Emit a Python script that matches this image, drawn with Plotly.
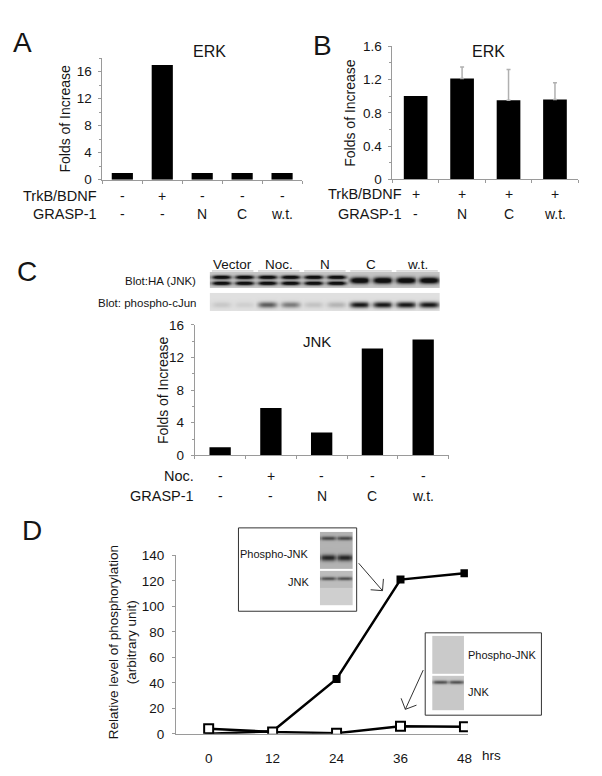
import numpy as np
import plotly.graph_objects as go

W, H = 602, 776
FONT = "Liberation Sans, Arial, sans-serif"
TXT = "#151515"
GRAY = "#9a9a9a"

# ---------------- data ----------------
# Panel A (ERK)
a_vals = [1.0, 17.0, 1.0, 1.0, 1.0]
a_trkb = ['-', '+', '-', '-', '-']
a_grasp = ['-', '-', 'N', 'C', 'w.t.']
# Panel B (ERK)
b_vals = [1.0, 1.21, 0.95, 0.96]
b_err = [0.0, 0.14, 0.37, 0.20]
b_trkb = ['+', '+', '+', '+']
b_grasp = ['-', 'N', 'C', 'w.t.']
# Panel C (JNK)
c_vals = [1.0, 5.8, 2.8, 13.1, 14.2]
c_noc = ['-', '+', '-', '-', '-']
c_grasp = ['-', '-', 'N', 'C', 'w.t.']
c_groups = ['Vector', 'Noc.', 'N', 'C', 'w.t.']
c_ha_doublet = [1, 1, 1, 1, 1, 1, 0, 0, 0, 0]
c_pcjun = [0.10, 0.07, 0.55, 0.42, 0.12, 0.18, 0.85, 0.85, 0.85, 0.85]
# Panel D (time course)
d_hours = [0, 12, 24, 36, 48]
d_filled = [0, 2, 43, 121, 126]
d_open = [4, 1.5, 0.5, 6, 5.5]
d_ticks = [0, 12, 24, 36, 48]


# ---------------- helpers ----------------
def dx(x0, x1):
    return [x0 / W, x1 / W]


def dy(ytop, ybot):
    return [1 - ybot / H, 1 - ytop / H]


def py(y):
    return 1 - y / H


annotations = []
shapes = []


def txt(text, x, y, size, xanchor='center', xref='paper', angle=0, color=TXT):
    xv = x / W if xref == 'paper' else x
    annotations.append(dict(text=text, x=xv, y=py(y), xref=xref, yref='paper',
                            xanchor=xanchor, yanchor='middle', showarrow=False,
                            textangle=angle,
                            font=dict(size=size, color=color, family=FONT)))


def pline(x0, y0, x1, y1, color='#333333', width=1):
    shapes.append(dict(type='line', xref='paper', yref='paper',
                       x0=x0 / W, y0=py(y0), x1=x1 / W, y1=py(y1),
                       line=dict(color=color, width=width)))


def arrow(x0, y0, x1, y1, L=12, ang=45):
    pline(x0, y0, x1, y1)
    d = np.array([x1 - x0, y1 - y0], float)
    d /= np.linalg.norm(d)
    b = -d
    for s in (1, -1):
        a = np.radians(ang * s)
        r = np.array([b[0] * np.cos(a) - b[1] * np.sin(a), b[0] * np.sin(a) + b[1] * np.cos(a)])
        pline(x1, y1, x1 + L * r[0], y1 + L * r[1])


def blot(nl, y0, y1, parts, sub=12, wband=0.42):
    xs = (np.arange(nl * sub) + 0.5) / sub
    lane = np.floor(xs).astype(int)
    u = xs - lane
    hprof = np.exp(-((u - 0.5) / wband) ** 4)
    ys = np.arange(y0, y1) + 0.5
    z = []
    for yv in ys:
        row = None
        for (p0, p1, bg, bands) in parts:
            if p0 <= yv < p1:
                val = np.full(xs.shape, bg)
                for (yc, s, inten) in bands:
                    amp = np.array([inten[l] for l in lane])
                    val = val + amp * hprof * np.exp(-((yv - yc) / s) ** 2)
                row = [float(min(v, 1.0)) for v in val]
        if row is None:
            row = [None] * len(xs)
        z.append(row)
    return xs, ys, z


fig = go.Figure()

# ---------------- Panel A ----------------
fig.add_trace(go.Bar(x=list(range(len(a_vals))), y=a_vals, width=0.53,
                     marker=dict(color='black', line=dict(width=0)),
                     xaxis='x', yaxis='y'))
# ---------------- Panel B ----------------
fig.add_trace(go.Bar(x=list(range(len(b_vals))), y=b_vals, width=0.51,
                     marker=dict(color='black', line=dict(width=0)),
                     xaxis='x2', yaxis='y2'))
eb_x = [i for i, e in enumerate(b_err) if e > 0]
fig.add_trace(go.Scatter(x=eb_x, y=[b_vals[i] for i in eb_x], mode='markers',
                         marker=dict(size=1, color='rgba(0,0,0,0)'),
                         error_y=dict(type='data', symmetric=False,
                                      array=[b_err[i] for i in eb_x],
                                      arrayminus=[0] * len(eb_x),
                                      color='#b0b0b0', thickness=1.5, width=2),
                         xaxis='x2', yaxis='y2'))
# ---------------- Panel C ----------------
fig.add_trace(go.Bar(x=list(range(len(c_vals))), y=c_vals, width=0.42,
                     marker=dict(color='black', line=dict(width=0)),
                     xaxis='x3', yaxis='y3'))
# ---------------- Panel D ----------------
fig.add_trace(go.Scatter(x=d_hours, y=d_filled, mode='lines+markers',
                         line=dict(color='black', width=2.5),
                         marker=dict(symbol='square', size=8, color='black'),
                         xaxis='x4', yaxis='y4'))
fig.add_trace(go.Scatter(x=d_hours, y=d_open, mode='lines+markers',
                         line=dict(color='black', width=2.5),
                         marker=dict(symbol='square', size=9, color='white',
                                     line=dict(color='black', width=2)),
                         xaxis='x4', yaxis='y4'))

# ---------------- blots ----------------
gray_scale = [[0, '#ffffff'], [1, '#101010']]
ha_d = [0.95 * f for f in c_ha_doublet]
ha_s = [1.0 * (1 - f) for f in c_ha_doublet]
xs, ys, z = blot(10, 262, 302, [
    (262, 278, 0.24, [(267.4, 2.0, ha_d), (273.4, 2.0, ha_d), (270.6, 3.2, ha_s)]),
    (283, 302, 0.13, [(295.0, 3.0, c_pcjun)]),
])
fig.add_trace(go.Heatmap(x=xs, y=ys, z=z, colorscale=gray_scale, zmin=0, zmax=1,
                         zsmooth='best', showscale=False, hoverinfo='skip',
                         xaxis='x5', yaxis='y5'))

xs, ys, z = blot(2, 527, 602, [
    (527, 564, 0.32, [(533.5, 2.0, [0.45, 0.45]), (553, 3.2, [0.6, 0.6])]),
    (566, 584, 0.28, [(573.8, 1.8, [0.45, 0.45])]),
    (584, 602, 0.20, []),
], wband=0.5)
fig.add_trace(go.Heatmap(x=xs, y=ys, z=z, colorscale=gray_scale, zmin=0, zmax=1,
                         zsmooth='best', showscale=False, hoverinfo='skip',
                         xaxis='x6', yaxis='y6'))

xs, ys, z = blot(2, 633, 709, [
    (633, 671, 0.22, []),
    (673, 709, 0.23, [(679.5, 1.8, [0.5, 0.5])]),
], wband=0.5)
fig.add_trace(go.Heatmap(x=xs, y=ys, z=z, colorscale=gray_scale, zmin=0, zmax=1,
                         zsmooth='best', showscale=False, hoverinfo='skip',
                         xaxis='x7', yaxis='y7'))

# ---------------- axes ----------------
tickfont = dict(size=13.5, color=TXT, family=FONT)


def bar_x(dom, n, anchor):
    return dict(domain=dom, range=[-0.5, n - 0.5], anchor=anchor, showline=True,
                linecolor=GRAY, linewidth=1, showgrid=False, zeroline=False,
                tickvals=[i - 0.5 for i in range(n + 1)], ticks='outside', ticklen=3,
                tickcolor=GRAY, showticklabels=False, fixedrange=True)


def val_y(dom, rng, dtick, mdt, anchor):
    return dict(domain=dom, range=rng, anchor=anchor, showline=True, linecolor=GRAY,
                linewidth=1, showgrid=False, zeroline=False, dtick=dtick,
                ticks='outside', ticklen=3, tickcolor=GRAY, tickfont=tickfont,
                ticklabelstandoff=4,
                minor=dict(dtick=mdt, ticks='outside', ticklen=2, tickcolor=GRAY))


def hidden(dom, rng, anchor):
    return dict(domain=dom, range=rng, anchor=anchor, visible=False, showgrid=False,
                zeroline=False, fixedrange=True)


layout = dict(
    width=W, height=H, margin=dict(l=0, r=0, t=0, b=0),
    paper_bgcolor='white', plot_bgcolor='white', showlegend=False,
    font=dict(family=FONT, color=TXT),
    xaxis=bar_x(dx(95, 296), 5, 'y'),
    yaxis=val_y(dy(44, 168), [0, 18], 4, 2, 'x'),
    xaxis2=bar_x(dx(387, 574), 4, 'y2'),
    yaxis2=val_y(dy(31.7, 167.7), [0, 1.6], 0.4, 0.2, 'x2'),
    xaxis3=bar_x(dx(188, 443.5), 5, 'y3'),
    yaxis3=val_y(dy(316, 449), [0, 16], 4, 2, 'x3'),
    xaxis4=dict(domain=dx(169, 463), range=[-6.15, 48.65], anchor='y4', showline=True,
                linecolor=GRAY, showgrid=False, zeroline=False, tickvals=d_ticks,
                ticks='', tickfont=tickfont, ticklabelstandoff=12),
    yaxis4=dict(domain=dy(551, 733), range=[0, 140], anchor='x4', showline=True,
                linecolor=GRAY, showgrid=False, zeroline=False, dtick=20,
                ticks='outside', ticklen=3, tickcolor=GRAY, tickfont=tickfont,
                ticklabelstandoff=5),
    xaxis5=hidden(dx(203, 435), [0, 10], 'y5'),
    yaxis5=hidden(dy(262, 302), [302, 262], 'x5'),
    xaxis6=hidden(dx(314, 347), [0, 2], 'y6'),
    yaxis6=hidden(dy(527, 602), [602, 527], 'x6'),
    xaxis7=hidden(dx(427, 459), [0, 2], 'y7'),
    yaxis7=hidden(dy(633, 709), [709, 633], 'x7'),
)

# ---------------- text: Panel A ----------------
txt('A', 15, 28.5, 28)
txt('ERK', 202.5, 37, 16)
txt('Folds of Increase', 57, 106, 14, angle=-90)
txt('TrkB/BDNF', 92, 184.5, 14.5, xanchor='right')
txt('GRASP-1', 92, 203, 14.5, xanchor='right')
for i, s in enumerate(a_trkb):
    txt(s, i, 184.5, 14, xref='x')
for i, s in enumerate(a_grasp):
    txt(s, i, 203, 14, xref='x')

# ---------------- text: Panel B ----------------
txt('B', 317, 31.5, 28)
txt('ERK', 484, 37, 16)
txt('Folds of Increase', 344, 100, 14, angle=-90)
txt('TrkB/BDNF', 399, 183, 14.5, xanchor='right')
txt('GRASP-1', 399, 203, 14.5, xanchor='right')
for i, s in enumerate(b_trkb):
    txt(s, i, 183, 14, xref='x2')
for i, s in enumerate(b_grasp):
    txt(s, i, 203, 14, xref='x2')

# ---------------- text: Panel C ----------------
txt('C', 19, 262, 28)
for i, g in enumerate(c_groups):
    annotations.append(dict(text=g, x=2 * i + 1, y=py(254.5), xref='x5', yref='paper',
                            xanchor='center', yanchor='middle', showarrow=False,
                            font=dict(size=13.5, color=TXT, family=FONT)))
    shapes.append(dict(type='line', xref='x5', yref='paper', x0=2 * i + 0.1, x1=2 * i + 1.9,
                       y0=py(261), y1=py(261), line=dict(color='#bbbbbb', width=1)))
txt('Blot:HA (JNK)', 191, 271.5, 11.5, xanchor='right')
txt('Blot: phospho-cJun', 191, 294, 11.5, xanchor='right')
txt('JNK', 311, 333, 15)
txt('Folds of Increase', 156, 382.5, 14, angle=-90)
txt('Noc.', 189, 470, 14.5, xanchor='right')
txt('GRASP-1', 189, 490, 14.5, xanchor='right')
for i, s in enumerate(c_noc):
    txt(s, i, 470, 14, xref='x3')
for i, s in enumerate(c_grasp):
    txt(s, i, 490, 14, xref='x3')

# ---------------- text: Panel D ----------------
txt('D', 24, 526, 28)
txt('Relative level of phosphorylation<br>(arbitrary unit)', 115.5, 640, 13.5, angle=-90)
txt('hrs', 487, 755, 13.5, xanchor='center')
shapes.append(dict(type='rect', xref='paper', yref='paper', x0=232 / W, x1=351 / W,
                   y0=py(608), y1=py(523), line=dict(color='#333333', width=1)))
shapes.append(dict(type='rect', xref='paper', yref='paper', x0=420 / W, x1=537 / W,
                   y0=py(714), y1=py(630), line=dict(color='#333333', width=1)))
txt('Phospho-JNK', 305, 550, 11, xanchor='right')
txt('JNK', 305, 578.5, 11, xanchor='right')
txt('Phospho-JNK', 461.5, 653, 11, xanchor='left')
txt('JNK', 461.5, 690.5, 11, xanchor='left')
arrow(353, 559, 377, 587)
arrow(418, 668, 400, 708)

layout['annotations'] = annotations
layout['shapes'] = shapes
fig.update_layout(**layout)
fig.write_html("out.html")
